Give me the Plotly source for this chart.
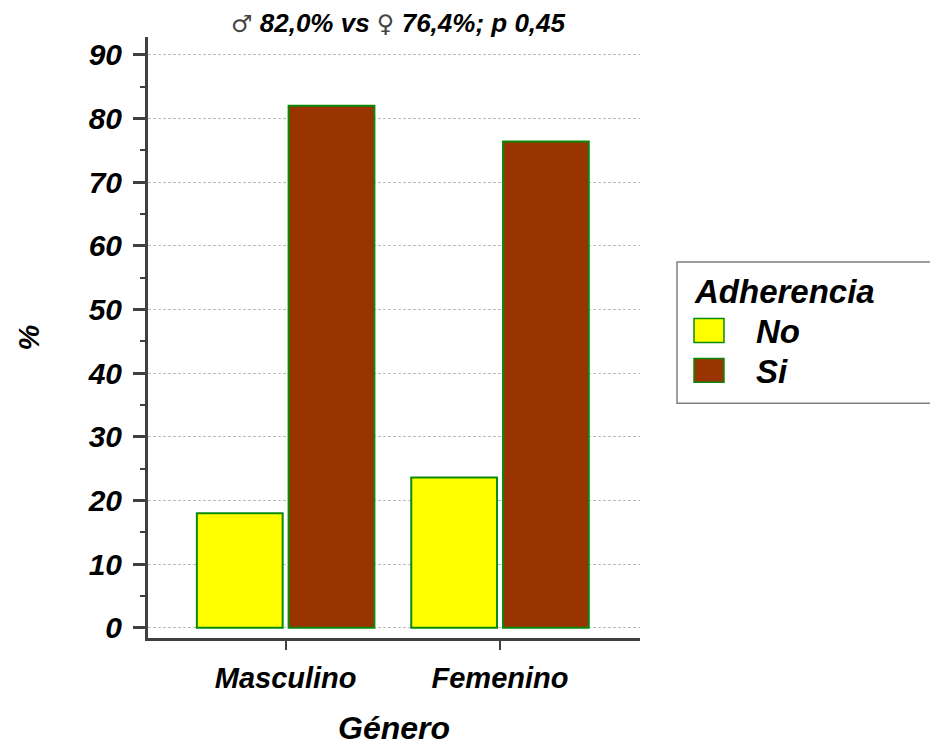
import plotly.graph_objects as go

categories = ["Masculino", "Femenino"]
series_names = ["No", "Si"]
values_no = [18.0, 23.6]
values_si = [82.0, 76.4]
series_colors = ["#FFFF00", "#993300"]
y_ticks = [0, 10, 20, 30, 40, 50, 60, 70, 80, 90]

FONT = "Liberation Sans, Arial, sans-serif"
OFF = 8  # page body margin
W, H = 938 - OFF, 752 - OFF
ML, MT = 148 - OFF, 37 - OFF
MR = W - (640 - OFF)
MB = H - (641 - OFF)

fig = go.Figure()
for name, vals, col in zip(series_names, [values_no, values_si], series_colors):
    fig.add_trace(go.Bar(
        x=categories, y=vals, name=name, showlegend=False,
        marker=dict(color=col, line=dict(color="#0A8A0A", width=2)),
    ))

def px_x(p):
    return (p - OFF - ML) / (W - ML - MR)

def px_y(p):
    return (H - MB - (p - OFF)) / (H - MT - MB)

shapes = [dict(type="rect", xref="paper", yref="paper",
               x0=px_x(677), x1=px_x(960), y0=px_y(405), y1=px_y(263),
               line=dict(color="#808080", width=1.5), fillcolor="white")]
annotations = [dict(text="<b><i>Adherencia</i></b>", xref="paper", yref="paper",
                    x=px_x(692), y=px_y(293), xanchor="left", yanchor="middle",
                    showarrow=False, font=dict(family=FONT, size=33, color="black"))]
for i, (name, col) in enumerate(zip(series_names, series_colors)):
    cy = 332 + 40 * i
    shapes.append(dict(type="rect", xref="paper", yref="paper",
                       x0=px_x(694), x1=px_x(724), y0=px_y(cy + 12), y1=px_y(cy - 12),
                       line=dict(color="#0A8A0A", width=1.5), fillcolor=col))
    annotations.append(dict(text=f"<b><i>{name}</i></b>", xref="paper", yref="paper",
                            x=px_x(754), y=px_y(cy + 1), xanchor="left", yanchor="middle",
                            showarrow=False, font=dict(family=FONT, size=33, color="black")))

SYM = "font-family:DejaVu Sans;font-size:24px;font-weight:normal;fill:#444444"
fig.update_layout(
    width=W, height=H,
    margin=dict(l=ML, r=MR, t=MT, b=MB, pad=0),
    paper_bgcolor="white", plot_bgcolor="white",
    barmode="group", bargap=0.144, bargroupgap=0.065,
    showlegend=False,
    title=dict(text=f"<span style='{SYM}'>♂</span> <b><i>82,0% vs</i></b> "
                    f"<span style='{SYM}'>♀</span> <b><i>76,4%; p 0,45</i></b>",
               x=(398 - OFF) / W, xref="container", y=1 - (23 - OFF) / H, yref="container",
               xanchor="center", yanchor="middle",
               font=dict(family=FONT, size=26, color="black")),
    font=dict(family=FONT, color="black"),
    shapes=shapes, annotations=annotations,
)
fig.update_xaxes(
    range=[-0.642, 1.653], showline=True, linewidth=3, linecolor="#404040",
    ticks="outside", ticklen=9, tickwidth=2, tickcolor="#404040",
    ticklabelstandoff=3,
    tickfont=dict(family=FONT, size=29, weight="bold", style="italic", color="black"),
    showgrid=False, zeroline=False,
    title=dict(text="Género", standoff=24,
               font=dict(family=FONT, size=32, weight="bold", style="italic", color="black")),
)
fig.update_yaxes(
    range=[-1.6, 92.8], tickvals=y_ticks, showline=True, linewidth=3, linecolor="#404040",
    ticks="outside", ticklen=12, tickwidth=3, tickcolor="#404040",
    ticklabelstandoff=5,
    minor=dict(dtick=5, ticks="outside", ticklen=5, tickwidth=2, tickcolor="#404040", showgrid=False),
    tickfont=dict(family=FONT, size=30, weight="bold", style="italic", color="black"),
    showgrid=True, gridcolor="#BDBDBD", griddash="3px,2px", gridwidth=1,
    zeroline=False,
    title=dict(text="%", standoff=40,
               font=dict(family=FONT, size=29, weight="bold", style="italic", color="black")),
)

fig.write_html("out.html")
